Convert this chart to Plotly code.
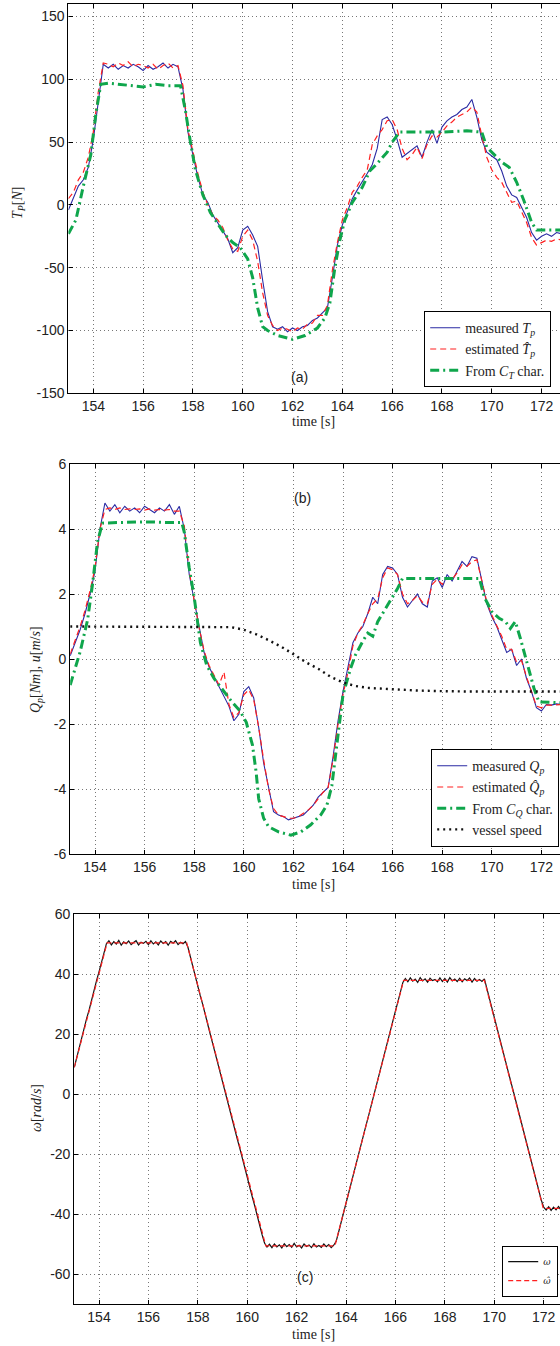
import numpy as np
import plotly.graph_objects as go

W, H = 560, 1346

# ---------------- DATA ----------------
# uniform 0.2 s sampling grid for measured / estimated signals (panels a, b)
T02 = np.round(153.0 + 0.2 * np.arange(100), 1)

TP_MEAS = [-4, 6, 15, 20, 30, 52, 84, 112, 109, 112,
           108, 111, 109, 112, 110, 107, 111, 108, 110, 113,
           109, 112, 110, 92, 58, 40, 22, 8, 2, -8,
           -14, -20, -27, -38, -34, -20, -17, -24, -33, -60,
           -85, -97, -99, -97, -101, -98, -100, -97, -96, -92,
           -90, -86, -82, -58, -32, -16, -6, 5, 12, 18,
           25, 32, 45, 68, 70, 64, 52, 38, 41, 44,
           47, 38, 50, 60, 49, 62, 67, 70, 72, 76,
           78, 84, 70, 52, 42, 39, 36, 27, 15, 8,
           6, -2, -10, -22, -28, -25, -23, -25, -22, -23]

TP_EST = [5, 10, 20, 26, 38, 58, 90, 113, 112, 110,
          113, 111, 114, 110, 112, 111, 109, 112, 108, 111,
          113, 109, 111, 95, 60, 42, 25, 10, 0, -8,
          -12, -18, -28, -35, -37, -25, -20, -28, -45, -70,
          -88, -96, -100, -98, -99, -101, -98, -99, -95, -94,
          -88, -88, -80, -52, -30, -12, -2, 10, 15, 22,
          28, 48, 55, 60, 67, 68, 60, 45, 36, 40,
          46, 37, 48, 55, 54, 58, 63, 66, 70, 72,
          74, 78, 74, 55, 38, 28, 22, 18, 10, 2,
          3, -6, -14, -26, -32, -30, -28, -29, -27, -28]

TP_CT_T = [153.0, 153.3, 153.6, 153.9, 154.1, 154.3, 154.6, 155.0, 155.5, 156.0,
           156.5, 157.0, 157.5, 157.7, 157.9, 158.1, 158.4, 158.7, 159.0, 159.3,
           159.6, 159.9, 160.2, 160.4, 160.6, 160.8, 161.0, 161.4, 162.0, 162.5,
           163.0, 163.3, 163.5, 163.7, 163.9, 164.1, 164.4, 164.8, 165.1, 165.4,
           165.8, 166.0, 166.3, 167.0, 168.0, 169.0, 169.6, 169.8, 170.1, 170.4,
           170.7, 171.0, 171.3, 171.6, 171.8, 172.8]
TP_CT = [-23, -12, 15, 40, 72, 96, 97, 96, 95, 94,
         96, 95, 95, 75, 50, 28, 8, -6, -15, -24,
         -30, -34, -43, -58, -82, -97, -100, -104, -107, -104,
         -98, -90, -78, -50, -28, -12, 2, 14, 27, 33,
         42, 50, 58, 58, 58, 59, 58, 46, 40, 34,
         30, 18, 3, -14, -20, -20]

QP_MEAS = [0.1, 0.5, 0.9, 1.4, 2.0, 2.7, 4.0, 4.8, 4.55, 4.75,
           4.5, 4.7, 4.55, 4.65, 4.5, 4.7, 4.6, 4.5, 4.65, 4.55,
           4.75, 4.45, 4.7, 4.0, 2.6, 1.8, 0.9, 0.2, -0.25, -0.55,
           -0.85, -1.15, -1.45, -1.9, -1.7, -1.0, -0.85, -1.2, -2.1, -3.2,
           -4.0, -4.7, -4.8, -4.85, -4.95, -4.9, -4.85, -4.8, -4.65, -4.5,
           -4.25, -4.1, -3.95, -3.0, -1.9, -1.0, -0.3, 0.5, 0.8, 1.0,
           1.4, 1.9, 1.7, 2.6, 2.85, 2.8, 2.6, 1.9, 1.6, 1.8,
           2.0, 1.7, 1.6, 2.4, 2.5, 2.2, 2.6, 2.4, 2.7, 3.0,
           2.85, 3.15, 3.1, 2.4, 1.7, 1.3, 1.0, 0.6, 0.2, 0.3,
           -0.2, 0.0, -0.6, -1.0, -1.5, -1.6, -1.4, -1.42, -1.38, -1.4]

QP_EST = [0.15, 0.55, 1.0, 1.5, 2.1, 2.8, 4.0, 4.6, 4.65, 4.6,
          4.65, 4.6, 4.62, 4.6, 4.62, 4.58, 4.62, 4.58, 4.6, 4.58,
          4.6, 4.55, 4.55, 4.1, 2.7, 1.8, 0.95, 0.25, -0.2, -0.5,
          -0.8, -0.4, -1.4, -1.8, -1.65, -1.1, -0.95, -1.25, -2.1, -3.1,
          -4.0, -4.6, -4.8, -4.85, -4.9, -4.9, -4.85, -4.75, -4.65, -4.5,
          -4.3, -4.1, -3.95, -3.1, -2.0, -1.1, -0.4, 0.4, 0.8, 1.05,
          1.4, 1.7, 1.85, 2.5, 2.8, 2.75, 2.6, 2.0, 1.7, 1.8,
          1.95, 1.75, 1.7, 2.3, 2.45, 2.3, 2.5, 2.45, 2.65, 2.9,
          2.85, 3.0, 3.05, 2.4, 1.75, 1.35, 1.05, 0.7, 0.3, 0.3,
          -0.1, -0.05, -0.55, -1.0, -1.45, -1.5, -1.42, -1.42, -1.4, -1.4]

QP_CQ_T = [153.0, 153.4, 153.7, 153.9, 154.1, 154.3, 155.0, 156.0, 157.0, 157.5,
           157.6, 157.8, 158.0, 158.25, 158.5, 158.8, 159.0, 159.3, 159.5, 159.85,
           160.1, 160.35, 160.5, 160.6, 160.8, 161.0, 161.4, 161.9, 162.3, 162.7,
           163.1, 163.35, 163.55, 163.75, 164.0, 164.3, 164.5, 164.8, 165.0, 165.2,
           165.4, 165.8, 166.2, 166.4, 169.5, 169.7, 170.0, 170.3, 170.55, 170.75,
           170.95, 171.15, 171.4, 171.7, 171.9, 172.8]
QP_CQ = [-0.8, 0.22, 1.2, 2.3, 3.6, 4.18, 4.2, 4.22, 4.2, 4.2,
         3.9, 2.8, 1.9, 0.5, -0.18, -0.6, -0.8, -1.1, -1.3, -1.6,
         -1.95, -2.65, -3.5, -4.3, -4.9, -5.16, -5.32, -5.42, -5.32, -5.1,
         -4.8, -4.5, -3.9, -2.65, -1.1, -0.3, 0.12, 0.55, 0.8, 0.7,
         1.15, 1.66, 2.17, 2.48, 2.48, 1.9, 1.46, 1.25, 1.15, 0.94,
         1.15, 0.64, -0.08, -0.9, -1.32, -1.35]

SPEED_T = [153.0, 159.0, 159.5, 160.0, 160.5, 161.0, 161.5, 162.0, 162.5, 163.0,
           163.5, 164.0, 164.5, 165.0, 166.0, 167.0, 168.0, 169.0, 172.8]
SPEED = [1.0, 1.0, 0.98, 0.9, 0.76, 0.58, 0.38, 0.15, -0.1, -0.3,
         -0.55, -0.72, -0.83, -0.89, -0.94, -0.97, -0.99, -1.0, -1.0]

# shaft speed, uniform 0.1 s grid
T01 = np.round(153.0 + 0.1 * np.arange(199), 1)
OMEGA = [9.0, 12.4, 15.3, 18.9, 21.8, 25.3, 28.1, 31.6, 34.6, 37.9, 40.8, 44.2, 47.1, 50.2,
         51.2, 49.8, 50.9, 50.1, 51.3, 49.7, 50.8, 50.2, 51.1, 49.9, 50.6, 51.2, 49.8, 50.7,
         50.3, 51.0, 49.9, 51.2, 50.1, 50.8, 49.8, 51.1, 50.3, 50.9, 49.7, 51.0, 50.4, 51.2,
         49.9, 50.7, 50.2, 50.9,
         49.0, 45.6, 42.7, 39.2, 36.2, 32.8, 29.9, 26.4, 23.4, 20.1, 17.0, 13.7, 10.6, 7.4,
         4.2, 1.1, -2.3, -5.3, -8.7, -11.7, -15.0, -18.0, -21.4, -24.4, -27.7, -30.8, -34.1,
         -37.1, -40.5, -43.5, -46.8, -49.6, -50.9,
         -50.0, -51.1, -49.9, -50.9, -50.2, -51.2, -49.8, -50.8, -50.1, -51.0, -49.7, -50.9,
         -50.3, -51.2, -49.9, -50.7, -50.2, -51.1, -49.8, -50.9, -50.4, -51.0, -49.9, -50.8,
         -50.1, -51.1, -50.3,
         -49.0, -45.9, -42.6, -39.5, -36.2, -33.1, -29.8, -26.6, -23.4, -20.3, -17.0, -13.9,
         -10.6, -7.5, -4.2, -1.1, 2.2, 5.3, 8.6, 11.7, 15.0, 18.1, 21.4, 24.5, 27.8, 30.9,
         34.2, 37.3,
         38.6, 37.5, 38.8, 37.7, 38.4, 37.3, 38.9, 37.8, 38.5, 37.4, 38.7, 37.9, 38.3, 37.5,
         38.8, 37.6, 38.6, 37.4, 38.9, 37.8, 38.4, 37.6, 38.7, 37.5, 38.5, 37.9, 38.8, 37.4,
         38.6, 37.7, 38.3, 37.6, 38.5,
         35.2, 32.1, 28.8, 25.7, 22.4, 19.3, 16.0, 12.9, 9.6, 6.5, 3.2, 0.1, -3.2, -6.3,
         -9.6, -12.7, -16.0, -19.1, -22.4, -25.5, -28.8, -31.9, -35.2, -37.6,
         -38.6, -37.5, -38.7, -37.6, -38.5, -37.4, -38.6, -37.8]

OMEGA_EST_T = [153.0, 154.33, 157.55, 160.75, 163.55, 166.33, 169.6, 171.98, 172.8]
OMEGA_EST = [9, 50.5, 50.5, -50.5, -50.5, 38, 38, -38, -38]

X_TICKS = [154, 156, 158, 160, 162, 164, 166, 168, 170, 172]
YA_TICKS = [-150, -100, -50, 0, 50, 100, 150]
YB_TICKS = [-6, -4, -2, 0, 2, 4, 6]
YC_TICKS = [-60, -40, -20, 0, 20, 40, 60]

# ---------------- STYLE ----------------
BLUE = "#2a2aa3"
RED = "#ff2020"
GREEN = "#0fa64c"
SANS = "Liberation Sans, Arial, sans-serif"
SERIF = "Liberation Serif, Times New Roman, serif"


def px(x):
    return x / W


def py(y):
    return 1 - y / H


fig = go.Figure()

# panel (a)
fig.add_trace(go.Scatter(x=T02, y=TP_MEAS, mode="lines", name="measured <i>T<sub>p</sub></i>",
                         line=dict(color=BLUE, width=1.1), xaxis="x", yaxis="y", legend="legend"))
fig.add_trace(go.Scatter(x=T02, y=TP_EST, mode="lines", name="estimated <i>T\u0302<sub>p</sub></i>",
                         line=dict(color=RED, width=1.2, dash="6px,4px"), xaxis="x", yaxis="y", legend="legend"))
fig.add_trace(go.Scatter(x=TP_CT_T, y=TP_CT, mode="lines", name="From <i>C<sub>T</sub></i> char.",
                         line=dict(color=GREEN, width=3, dash="9px,4px,2px,4px"), xaxis="x", yaxis="y",
                         legend="legend"))

# panel (b)
fig.add_trace(go.Scatter(x=T02, y=QP_MEAS, mode="lines", name="measured <i>Q<sub>p</sub></i>",
                         line=dict(color=BLUE, width=1.1), xaxis="x2", yaxis="y2", legend="legend2"))
fig.add_trace(go.Scatter(x=T02, y=QP_EST, mode="lines", name="estimated <i>Q\u0302<sub>p</sub></i>",
                         line=dict(color=RED, width=1.2, dash="6px,4px"), xaxis="x2", yaxis="y2",
                         legend="legend2"))
fig.add_trace(go.Scatter(x=QP_CQ_T, y=QP_CQ, mode="lines", name="From <i>C<sub>Q</sub></i> char.",
                         line=dict(color=GREEN, width=3, dash="9px,4px,2px,4px"), xaxis="x2", yaxis="y2",
                         legend="legend2"))
fig.add_trace(go.Scatter(x=SPEED_T, y=SPEED, mode="lines", name="vessel speed",
                         line=dict(color="#111111", width=2.4, dash="2px,4px"), xaxis="x2", yaxis="y2",
                         legend="legend2"))

# panel (c)
fig.add_trace(go.Scatter(x=T01, y=OMEGA, mode="lines", name="<i>ω</i>",
                         line=dict(color="#111111", width=1.2), xaxis="x3", yaxis="y3", legend="legend3"))
fig.add_trace(go.Scatter(x=OMEGA_EST_T, y=OMEGA_EST, mode="lines", name="<i>ω\u0302</i>",
                         line=dict(color=RED, width=1.2, dash="5px,3px"), xaxis="x3", yaxis="y3",
                         legend="legend3"))

common_x = dict(tickvals=X_TICKS, ticktext=[str(v) for v in X_TICKS], automargin=False,
                showgrid=True, gridcolor="#777777", griddash="1px,3px", gridwidth=1,
                showline=True, linecolor="black", linewidth=1.2, mirror="ticks",
                ticks="inside", ticklen=4, tickcolor="black",
                tickfont=dict(family=SANS, size=14, color="#222"), zeroline=False)
common_y = dict(showgrid=True, gridcolor="#777777", griddash="1px,3px", gridwidth=1, automargin=False,
                showline=True, linecolor="black", linewidth=1.2, mirror=False,
                ticks="inside", ticklen=4, tickcolor="black",
                tickfont=dict(family=SANS, size=14, color="#222"), zeroline=False)

layout = dict(
    template="none",
    width=W, height=H, margin=dict(l=0, r=0, t=0, b=0, autoexpand=False),
    paper_bgcolor="white", plot_bgcolor="white",
    xaxis=dict(common_x, domain=[px(68.4), 1], range=[153, 172.74], anchor="y"),
    yaxis=dict(common_y, domain=[py(393.3), py(4)], range=[-150, 160], anchor="x",
               tickvals=YA_TICKS, ticktext=[str(v) for v in YA_TICKS]),
    xaxis2=dict(common_x, domain=[px(70.2), 1], range=[153, 172.75], anchor="y2"),
    yaxis2=dict(common_y, domain=[py(854), py(464)], range=[-6, 6], anchor="x2",
                tickvals=YB_TICKS, ticktext=[str(v) for v in YB_TICKS]),
    xaxis3=dict(common_x, domain=[px(74.3), 1], range=[153, 172.66], anchor="y3"),
    yaxis3=dict(common_y, domain=[py(1304.3), py(914.3)], range=[-70, 60], anchor="x3",
                tickvals=YC_TICKS, ticktext=[str(v) for v in YC_TICKS]),
    legend=dict(x=px(551), xanchor="right", y=py(387), yanchor="bottom",
                bgcolor="white", bordercolor="black", borderwidth=1.2,
                font=dict(family=SERIF, size=14, color="#222"), tracegroupgap=0),
    legend2=dict(x=px(559), xanchor="right", y=py(847), yanchor="bottom",
                 bgcolor="white", bordercolor="black", borderwidth=1.2,
                 font=dict(family=SERIF, size=14, color="#222"), tracegroupgap=0),
    legend3=dict(x=px(558), xanchor="right", y=py(1297), yanchor="bottom",
                 bgcolor="white", bordercolor="black", borderwidth=1.2,
                 font=dict(family="DejaVu Serif, serif", size=9, color="#222"), tracegroupgap=0,
                 itemwidth=30),
    showlegend=True,
)
fig.update_layout(layout)

annos = []
# panel tags
for txt, x, y in [("(a)", 299, 377), ("(b)", 302, 498), ("(c)", 305, 1277)]:
    annos.append(dict(text=txt, x=px(x), y=py(y), xref="paper", yref="paper", showarrow=False,
                      font=dict(family=SANS, size=14, color="#222"), xanchor="center", yanchor="middle"))
# x axis titles
for y in [421, 884, 1334]:
    annos.append(dict(text="time [s]", x=px(313), y=py(y), xref="paper", yref="paper", showarrow=False,
                      font=dict(family=SERIF, size=14, color="#222"), xanchor="center", yanchor="middle"))
# y axis titles
for txt, x, y in [("<i>T<sub>P</sub></i>[<i>N</i>]", 18, 203),
                  ("<i>Q<sub>p</sub></i>[<i>Nm</i>], <i>u</i>[<i>m</i>/<i>s</i>]", 36, 670),
                  ("<i>ω</i>[<i>rad</i>/<i>s</i>]", 36, 1108)]:
    annos.append(dict(text=txt, x=px(x), y=py(y), xref="paper", yref="paper", showarrow=False,
                      textangle=-90, font=dict(family=SERIF, size=14, color="#222"),
                      xanchor="center", yanchor="middle"))
fig.update_layout(annotations=annos)

fig.write_html("out.html", config={"responsive": False, "displayModeBar": False},
               post_script="document.body.style.margin='0';document.body.style.overflow='hidden';")
